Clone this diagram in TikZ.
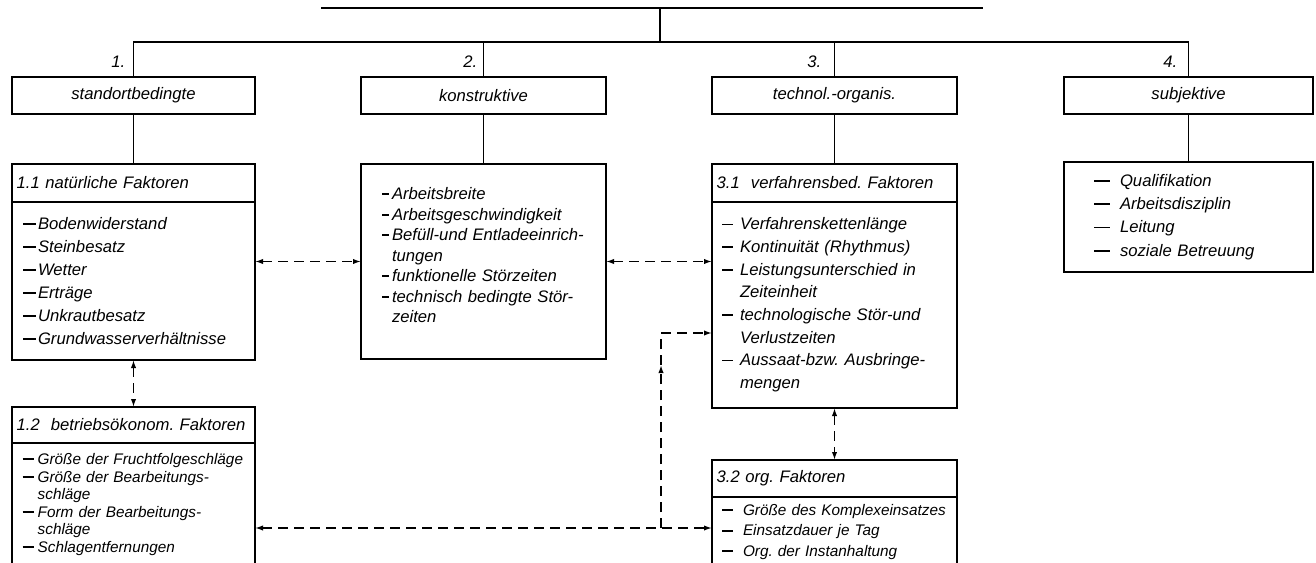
\documentclass[tikz,border=0pt]{standalone}
\usepackage{fontspec}
\setmainfont{Liberation Sans}
\usetikzlibrary{arrows.meta}
\frenchspacing

\newcommand{\itemdash}{\makebox[\mcIndent][l]{\rule[0.28em]{\mcDash}{1.3pt}}}
\newcommand{\itemgap}{\hspace*{\mcIndent}}

\tikzset{
	item indent/.store in=\mcIndent,
	item indent=11pt,
	item dash/.store in=\mcDash,
	item dash=8pt}
\tikzset{every picture/.style={line width=1pt}}
\tikzset{
	kbox/.style={draw, line width=1.2pt, outer sep=0pt, inner sep=0pt},
	catbox/.style={kbox, minimum height=27.75pt, font=\itshape\fontsize{12.5}{15}\selectfont},
	headbox/.style={kbox, align=left, inner xsep=3.5pt, font=\itshape\fontsize{12.5}{14}\selectfont},
	bodybox/.style={kbox, align=left},
	numlabel/.style={inner sep=0pt, font=\itshape\fontsize{12.5}{15}\selectfont},
	link/.style={line width=1.1pt, dash pattern=on 7.5pt off 4.5pt, {Latex[length=6pt,width=4pt]}-{Latex[length=6pt,width=4pt]}},
	linkone/.style={line width=1.1pt, dash pattern=on 7.5pt off 4.5pt, -{Latex[length=6pt,width=4pt]}}}

\begin{document}
\begin{tikzpicture}[x=0.75pt,y=0.75pt,yscale=-1,xscale=1]
	\useasboundingbox (0,0) rectangle (1316,563);

	%Straight Lines
	\draw (321,8) -- (983,8) ;
	\coordinate (root) at (660,8) ;
	\coordinate (bus) at (660,42) ;

	%Shape: Rectangle
	\node[catbox, minimum width=182.25pt] (b1) at (133.5,95.5) {standortbedingte};
	%Shape: Rectangle
	\node[catbox, minimum width=183.75pt] (b2) at (483.5,95.5) {konstruktive};
	%Shape: Rectangle
	\node[catbox, minimum width=183.75pt] (b3) at (834.5,95.5) {technol.-organis.};
	%Shape: Rectangle
	\node[catbox, minimum width=186.75pt] (b4) at (1188.5,95.5) {subjektive};

	% Text Node
	\node[numlabel, anchor=east] (n1) at (126,62) {1.};
	% Text Node
	\node[numlabel, anchor=east] (n2) at (478,62) {2.};
	% Text Node
	\node[numlabel, anchor=east] (n3) at (822,62) {3.};
	% Text Node
	\node[numlabel, anchor=east] (n4) at (1178,62) {4.};

	%Straight Lines
	\draw (root) -- (bus) ;
	\draw (b1.north) |- (bus) -| (b4.north) ;
	\draw (b2.north) -- (b2.north |- bus) ;
	\draw (b3.north) -- (b3.north |- bus) ;

	%Shape: Rectangle
	\node[headbox, text width=175.25pt, minimum height=28.5pt] (h11) at (133.5,183) {1.1 natürliche Faktoren};
	%Shape: Rectangle
	\node[bodybox, text width=165.75pt, inner xsep=8.25pt, minimum height=118.5pt,
		item indent=11.25pt, item dash=9.75pt, font=\itshape\fontsize{12.5}{17.25}\selectfont] (body11) at (133.5,281)
		{\itemdash Bodenwiderstand\\
		\itemdash Steinbesatz\\
		\itemdash Wetter\\
		\itemdash Erträge\\
		\itemdash Unkrautbesatz\\
		\itemdash Grundwasserverhältnisse};

	%Shape: Rectangle
	\node[bodybox, text width=152.25pt, inner xsep=15.75pt, minimum height=146.25pt,
		item indent=7.5pt, item dash=5.25pt, font=\itshape\fontsize{12.5}{15.4}\selectfont] (body2) at (483.5,261.5)
		{\itemdash Arbeitsbreite\\
		\itemdash Arbeitsgeschwindigkeit\\
		\itemdash Befüll-und Entladeeinrich-\\
		\itemgap tungen\\
		\itemdash funktionelle Störzeiten\\
		\itemdash technisch bedingte Stör-\\
		\itemgap zeiten\\[-6pt]\mbox{}};

	%Shape: Rectangle
	\node[headbox, text width=176.75pt, minimum height=28.5pt] (h31) at (834.5,183) {3.1~~verfahrensbed. Faktoren};
	%Shape: Rectangle
	\node[bodybox, text width=168.75pt, inner xsep=7.5pt, minimum height=154.5pt,
		item indent=13.5pt, item dash=8.25pt, font=\itshape\fontsize{12.5}{17}\selectfont] (body31) at (834.5,305)
		{\itemdash Verfahrenskettenlänge\\
		\itemdash Kontinuität (Rhythmus)\\
		\itemdash Leistungsunterschied in\\
		\itemgap Zeiteinheit\\
		\itemdash technologische Stör-und\\
		\itemgap Verlustzeiten\\
		\itemdash Aussaat-bzw. Ausbringe-\\
		\itemgap mengen};

	%Shape: Rectangle
	\node[bodybox, text width=141.75pt, inner xsep=22.5pt, minimum height=82.5pt,
		item indent=19.5pt, item dash=12pt, font=\itshape\fontsize{12.5}{17.5}\selectfont] (body4) at (1188.5,217)
		{\itemdash Qualifikation\\
		\itemdash Arbeitsdisziplin\\
		\itemdash Leitung\\
		\itemdash soziale Betreuung};

	%Shape: Rectangle
	\node[headbox, text width=175.25pt, minimum height=27pt] (h12) at (133.5,425) {1.2~~betriebsökonom. Faktoren};
	%Shape: Rectangle
	\node[bodybox, text width=166.25pt, inner xsep=8pt, minimum height=92.25pt,
		item indent=11.25pt, item dash=8.25pt, font=\itshape\fontsize{11.5}{13.2}\selectfont] (body12) at (133.5,504.5)
		{\itemdash Größe der Fruchtfolgeschläge\\
		\itemdash Größe der Bearbeitungs-\\
		\itemgap schläge\\
		\itemdash Form der Bearbeitungs-\\
		\itemgap schläge\\
		\itemdash Schlagentfernungen};

	%Shape: Rectangle
	\node[headbox, text width=176.75pt, minimum height=27.75pt] (h32) at (834.5,478.5) {3.2 org. Faktoren};
	%Shape: Rectangle
	\node[bodybox, text width=168.75pt, inner xsep=7.5pt, minimum height=52.5pt,
		item indent=15.75pt, item dash=8.25pt, font=\itshape\fontsize{11.5}{15.4}\selectfont] (body32) at (834.5,532)
		{\itemdash Größe des Komplexeinsatzes\\
		\itemdash Einsatzdauer je Tag\\
		\itemdash Org. der Instanhaltung};

	%Straight Lines
	\draw (b1.south) -- (h11.north) ;
	\draw (b2.south) -- (body2.north) ;
	\draw (b3.south) -- (h31.north) ;
	\draw (b4.south) -- (body4.north) ;

	%Straight Lines
	\draw [link] (body11.east |- body2.west) -- (body2.west) ;
	\draw [link] (body2.east) -- (body2.east -| body31.west) ;
	\draw [link] (body11.south) -- (h12.north) ;
	\draw [link] (body31.south) -- (h32.north) ;

	%Straight Lines
	\coordinate (j) at (661,528) ;
	\coordinate (k) at (661,365) ;
	\draw [link] (body12.east |- j) -- (body32.west |- j) ;
	\draw [linkone] (j) -- (k) ;
	\draw [linkone] (k) |- ([yshift=21pt]body31.west) ;

\end{tikzpicture}
\end{document}
